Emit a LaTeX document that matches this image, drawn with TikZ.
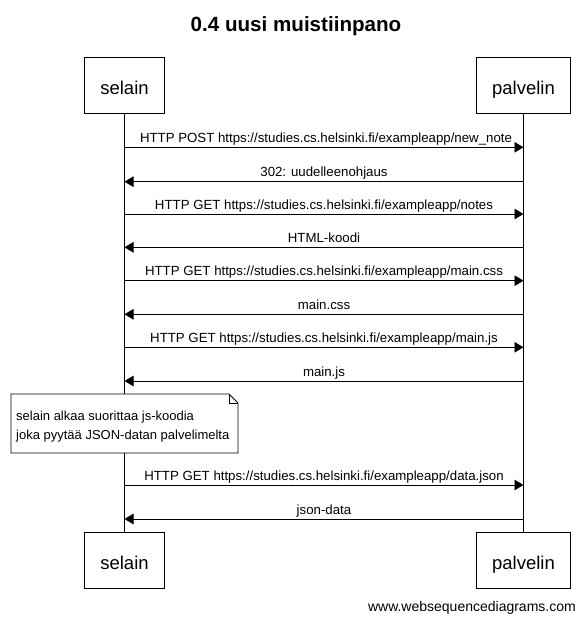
\documentclass[tikz,border=0pt]{standalone}
\usepackage{fontspec}
\setmainfont{Liberation Sans}
\usetikzlibrary{arrows.meta}
\tikzset{
  actor/.style={draw=black, line width=0.9pt, fill=white, minimum height=56pt, inner sep=0pt,
    text height=18pt, text depth=0pt, font=\fontsize{18.5}{22}\selectfont},
  lifeline/.style={draw=black, line width=0.9pt},
  msg/.style={draw=black, line width=0.9pt, -{Triangle[length=9pt,width=10.5pt]}},
  lbl/.style={anchor=base, inner sep=0pt, font=\fontsize{13.25}{15}\selectfont},
  notetxt/.style={anchor=base west, inner sep=0pt, font=\fontsize{13}{15}\selectfont},
}
\begin{document}
\begin{tikzpicture}[x=1pt,y=-1pt]
\useasboundingbox[fill=white] (0,0) rectangle (585,624);
% title
\node[anchor=base, inner sep=0pt, font=\fontsize{20.6}{24}\bfseries\selectfont] (title) at (296,31.7) {0.4 uusi muistiinpano};
% actors
\node[actor, minimum width=80pt] (sT) at (124.5,85.5) {selain};
\node[actor, minimum width=94pt] (pT) at (523.5,85.5) {palvelin};
\node[actor, minimum width=80pt] (sB) at (124.5,560.5) {selain};
\node[actor, minimum width=94pt] (pB) at (523.5,560.5) {palvelin};
% lifelines
\draw[lifeline] (sT.south) -- (sB.north);
\draw[lifeline] (pT.south) -- (pB.north);
% message points
\foreach \i/\y in {1/147.3,2/181.7,3/214,4/247.3,5/280.7,6/314.3,7/347.3,8/381,9/485,10/519}{
  \coordinate (s\i) at (124.5,\y);
  \coordinate (p\i) at (523.5,\y);
}
\draw[msg] (s1) -- (p1) node[lbl, midway, yshift=4.8pt, xshift=2pt] (l1) {HTTP POST https://studies.cs.helsinki.fi/exampleapp/new\_note};
\draw[msg] (p2) -- (s2) node[lbl, midway, yshift=4.8pt] (l2) {302: uudelleenohjaus};
\draw[msg] (s3) -- (p3) node[lbl, midway, yshift=4.8pt] (l3) {HTTP GET https://studies.cs.helsinki.fi/exampleapp/notes};
\draw[msg] (p4) -- (s4) node[lbl, midway, yshift=4.8pt] (l4) {HTML-koodi};
\draw[msg] (s5) -- (p5) node[lbl, midway, yshift=4.8pt] (l5) {HTTP GET https://studies.cs.helsinki.fi/exampleapp/main.css};
\draw[msg] (p6) -- (s6) node[lbl, midway, yshift=4.8pt] (l6) {main.css};
\draw[msg] (s7) -- (p7) node[lbl, midway, yshift=4.8pt] (l7) {HTTP GET https://studies.cs.helsinki.fi/exampleapp/main.js};
\draw[msg] (p8) -- (s8) node[lbl, midway, yshift=4.8pt] (l8) {main.js};
\draw[msg] (s9) -- (p9) node[lbl, midway, yshift=4.8pt] (l9) {HTTP GET https://studies.cs.helsinki.fi/exampleapp/data.json};
\draw[msg] (p10) -- (s10) node[lbl, midway, yshift=4.8pt] (l10) {json-data};
% note
\draw[line width=0.9pt, fill=white] (11,394) -- (229,394) -- (238,403) -- (238,453) -- (11,453) -- cycle;
\draw[line width=0.9pt] (229,394) -- (229,403) -- (238,403);
\node[notetxt] (n1) at (16,420) {selain alkaa suorittaa js-koodia};
\node[notetxt] (n2) at (16,439.5) {joka pyytää JSON-datan palvelimelta};
% footer
\node[anchor=base east, inner sep=0pt, font=\fontsize{14}{16}\selectfont] (foot) at (576,611.5) {www.websequencediagrams.com};
\end{tikzpicture}
\end{document}
